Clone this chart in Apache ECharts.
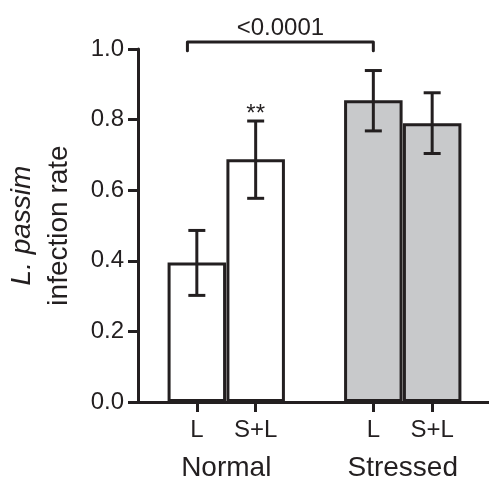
<!DOCTYPE html>
<html>
<head>
<meta charset="utf-8">
<script src="https://cdn.jsdelivr.net/npm/echarts@6/dist/echarts.min.js"></script>
<style>html,body{margin:0;padding:0;background:#fff}#c{width:489px;height:481px}</style>
</head>
<body>
<div id="c"></div>
<script>
// ---- data ----
var positions = [1, 2, 4, 5];
var barLabels = ['L', 'S+L', 'L', 'S+L'];
var groupNames = ['Normal', 'Stressed'];
var groupCenters = [1.5, 4.5];
var normalValues = [0.395, 0.688];
var stressedValues = [0.855, 0.790];
var errLow = [0.302, 0.577, 0.768, 0.704];
var errHigh = [0.486, 0.796, 0.939, 0.876];
var sigMarks = ['', '**', '', ''];
var bracketX = [0.84, 4.0];
var bracketY = [0.995, 1.02];
var bracketText = '<0.0001';

var INK = '#231f20';
var FONT = '"Liberation Sans", Arial, Helvetica, sans-serif';

var normalData = normalValues.map(function (v, i) { return [positions[i], v]; });
var stressedData = stressedValues.map(function (v, i) { return [positions[i + 2], v]; });
var errData = positions.map(function (p, i) { return [p, errLow[i], errHigh[i], i]; });

var chart = echarts.init(document.getElementById('c'));
chart.setOption({
  animation: false,
  textStyle: { fontFamily: FONT },
  grid: { left: 138, right: -2, top: 49, bottom: 79, containLabel: false, outerBoundsMode: 'none' },
  xAxis: [{
    type: 'value', min: 0, max: 6,
    axisLine: { show: true, onZero: false, lineStyle: { color: INK, width: 3 } },
    axisTick: { show: true, customValues: positions, length: 10, lineStyle: { color: INK, width: 3 } },
    axisLabel: { show: true, customValues: positions, margin: 16, fontSize: 24, color: INK, fontFamily: FONT,
      formatter: function (v) { var i = positions.indexOf(v); return i >= 0 ? barLabels[i] : ''; } },
    splitLine: { show: false }
  }, {
    type: 'value', min: 0, max: 6, position: 'bottom',
    axisLine: { show: false }, axisTick: { show: false }, splitLine: { show: false },
    axisLabel: { show: true, customValues: groupCenters, margin: 52, fontSize: 28, color: INK, fontFamily: FONT,
      formatter: function (v) { var i = groupCenters.indexOf(v); return i >= 0 ? groupNames[i] : ''; } }
  }],
  yAxis: {
    type: 'value', min: 0, max: 1, interval: 0.2,
    axisLine: { show: true, lineStyle: { color: INK, width: 3 } },
    axisTick: { show: true, length: 10, lineStyle: { color: INK, width: 3 } },
    axisLabel: { margin: 14, fontSize: 24, color: INK, fontFamily: FONT,
      formatter: function (v) { return v.toFixed(1); } },
    splitLine: { show: false },
    name: '{i|L. passim}\n{n|infection rate}',
    nameLocation: 'middle', nameRotate: 90, nameGap: 60,
    nameTextStyle: {
      color: INK, fontSize: 28, fontFamily: FONT, lineHeight: 37,
      rich: {
        i: { fontStyle: 'italic', fontSize: 28, color: INK, fontFamily: FONT, lineHeight: 37 },
        n: { fontSize: 28, color: INK, fontFamily: FONT, lineHeight: 37 }
      }
    }
  },
  series: [{
    type: 'bar', name: 'Normal', data: normalData, barWidth: 58.5, barGap: '-100%',
    itemStyle: { color: '#ffffff', borderColor: INK, borderWidth: 3 }
  }, {
    type: 'bar', name: 'Stressed', data: stressedData, barWidth: 58.5, barGap: '-100%',
    itemStyle: { color: '#c8c9cb', borderColor: INK, borderWidth: 3 }
  }, {
    type: 'custom', name: 'err', clip: false, z: 5,
    data: errData,
    renderItem: function (params, api) {
      var x = api.value(0), lo = api.value(1), hi = api.value(2), idx = api.value(3);
      var pLo = api.coord([x, lo]), pHi = api.coord([x, hi]);
      var cap = 8.5;
      var st = { stroke: INK, lineWidth: 3, fill: null };
      var children = [
        { type: 'line', shape: { x1: pLo[0], y1: pLo[1], x2: pHi[0], y2: pHi[1] }, style: st },
        { type: 'line', shape: { x1: pLo[0] - cap, y1: pLo[1], x2: pLo[0] + cap, y2: pLo[1] }, style: st },
        { type: 'line', shape: { x1: pHi[0] - cap, y1: pHi[1], x2: pHi[0] + cap, y2: pHi[1] }, style: st }
      ];
      if (sigMarks[idx]) {
        children.push({ type: 'text', style: { text: sigMarks[idx], x: pHi[0], y: pHi[1] + 5,
          align: 'center', verticalAlign: 'bottom', fontSize: 24, fontFamily: FONT, fill: INK } });
      }
      return { type: 'group', children: children };
    }
  }, {
    type: 'custom', name: 'bracket', clip: false, z: 5,
    data: [[bracketX[0], bracketX[1], bracketY[0], bracketY[1]]],
    renderItem: function (params, api) {
      var a = api.coord([api.value(0), api.value(2)]);
      var b = api.coord([api.value(0), api.value(3)]);
      var c = api.coord([api.value(1), api.value(3)]);
      var d = api.coord([api.value(1), api.value(2)]);
      return { type: 'group', children: [
        { type: 'polyline', shape: { points: [a, b, c, d] },
          style: { stroke: INK, lineWidth: 3, fill: null, lineJoin: 'round', lineCap: 'round' } },
        { type: 'text', style: { text: bracketText, x: (b[0] + c[0]) / 2, y: b[1] - 2,
          align: 'center', verticalAlign: 'bottom', fontSize: 24, fontFamily: FONT, fill: INK } }
      ] };
    }
  }]
});
</script>
</body>
</html>
